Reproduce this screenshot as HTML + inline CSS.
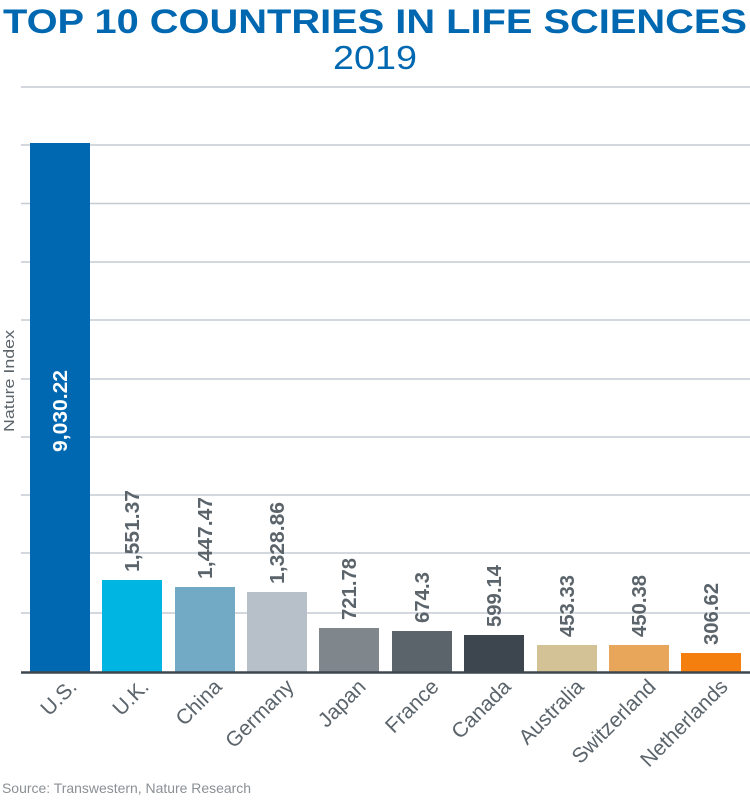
<!DOCTYPE html>
<html><head><meta charset="utf-8"><style>
html,body{margin:0;padding:0;background:#fff;}
svg{display:block;font-family:"Liberation Sans","DejaVu Sans",sans-serif;}
</style></head><body>
<svg width="750" height="801" viewBox="0 0 750 801" xmlns="http://www.w3.org/2000/svg">
<text x="375" y="33" text-anchor="middle" font-size="34" font-weight="bold" fill="#0068b1" textLength="744" lengthAdjust="spacingAndGlyphs">TOP 10 COUNTRIES IN LIFE SCIENCES</text>
<text x="375" y="69" text-anchor="middle" font-size="33" fill="#0068b1" textLength="84" lengthAdjust="spacingAndGlyphs">2019</text>
<g stroke="#c3ccd4" stroke-width="1.5">
<line x1="21" y1="87" x2="750" y2="87"/><line x1="21" y1="145" x2="750" y2="145"/>
<line x1="21" y1="203.5" x2="750" y2="203.5"/><line x1="21" y1="262" x2="750" y2="262"/>
<line x1="21" y1="320" x2="750" y2="320"/><line x1="21" y1="379" x2="750" y2="379"/>
<line x1="21" y1="437" x2="750" y2="437"/><line x1="21" y1="495" x2="750" y2="495"/>
<line x1="21" y1="553" x2="750" y2="553"/><line x1="21" y1="613" x2="750" y2="613"/>
</g>
<rect x="30" y="143" width="60" height="529" fill="#0068b1"/>
<rect x="102" y="580" width="60" height="92" fill="#00b5e2"/>
<rect x="175" y="587" width="60" height="85" fill="#72aac6"/>
<rect x="247" y="592" width="60" height="80" fill="#b7c0c8"/>
<rect x="319" y="628" width="60" height="44" fill="#7f878d"/>
<rect x="392" y="631" width="60" height="41" fill="#5b646b"/>
<rect x="464" y="635" width="60" height="37" fill="#3d464e"/>
<rect x="537" y="645" width="60" height="27" fill="#d2c295"/>
<rect x="609" y="645" width="60" height="27" fill="#e8a65a"/>
<rect x="681" y="653" width="60" height="19" fill="#f47f0f"/>
<line x1="21" y1="672.5" x2="750" y2="672.5" stroke="#3d464e" stroke-width="2.5"/>
<text transform="translate(14,381) rotate(-90)" text-anchor="middle" font-size="15" fill="#5b646b" textLength="102" lengthAdjust="spacingAndGlyphs">Nature Index</text>
<text transform="translate(67,411) rotate(-90)" text-anchor="middle" font-size="20" font-weight="bold" fill="#fff" textLength="82" lengthAdjust="spacingAndGlyphs">9,030.22</text>
<g font-size="20" font-weight="bold" fill="#5b646b">
<text transform="translate(139,572) rotate(-90)" textLength="82" lengthAdjust="spacingAndGlyphs">1,551.37</text>
<text transform="translate(212,579) rotate(-90)" textLength="82" lengthAdjust="spacingAndGlyphs">1,447.47</text>
<text transform="translate(284,584) rotate(-90)" textLength="82" lengthAdjust="spacingAndGlyphs">1,328.86</text>
<text transform="translate(356,620) rotate(-90)" textLength="62" lengthAdjust="spacingAndGlyphs">721.78</text>
<text transform="translate(429,623) rotate(-90)" textLength="51" lengthAdjust="spacingAndGlyphs">674.3</text>
<text transform="translate(501,627) rotate(-90)" textLength="62" lengthAdjust="spacingAndGlyphs">599.14</text>
<text transform="translate(574,637) rotate(-90)" textLength="62" lengthAdjust="spacingAndGlyphs">453.33</text>
<text transform="translate(646,637) rotate(-90)" textLength="62" lengthAdjust="spacingAndGlyphs">450.38</text>
<text transform="translate(718,645) rotate(-90)" textLength="62" lengthAdjust="spacingAndGlyphs">306.62</text>
</g>
<g font-size="21" fill="#5b646b" text-anchor="end">
<text transform="translate(78,688) rotate(-45)">U.S.</text>
<text transform="translate(150,688) rotate(-45)">U.K.</text>
<text transform="translate(223,688) rotate(-45)">China</text>
<text transform="translate(295,688) rotate(-45)">Germany</text>
<text transform="translate(367,688) rotate(-45)">Japan</text>
<text transform="translate(440,688) rotate(-45)">France</text>
<text transform="translate(512,688) rotate(-45)">Canada</text>
<text transform="translate(585,688) rotate(-45)">Australia</text>
<text transform="translate(657,688) rotate(-45)">Switzerland</text>
<text transform="translate(729,688) rotate(-45)">Netherlands</text>
</g>
<text x="2" y="793" font-size="14" fill="#8a9095" textLength="249" lengthAdjust="spacingAndGlyphs">Source: Transwestern, Nature Research</text>
</svg>
</body></html>
